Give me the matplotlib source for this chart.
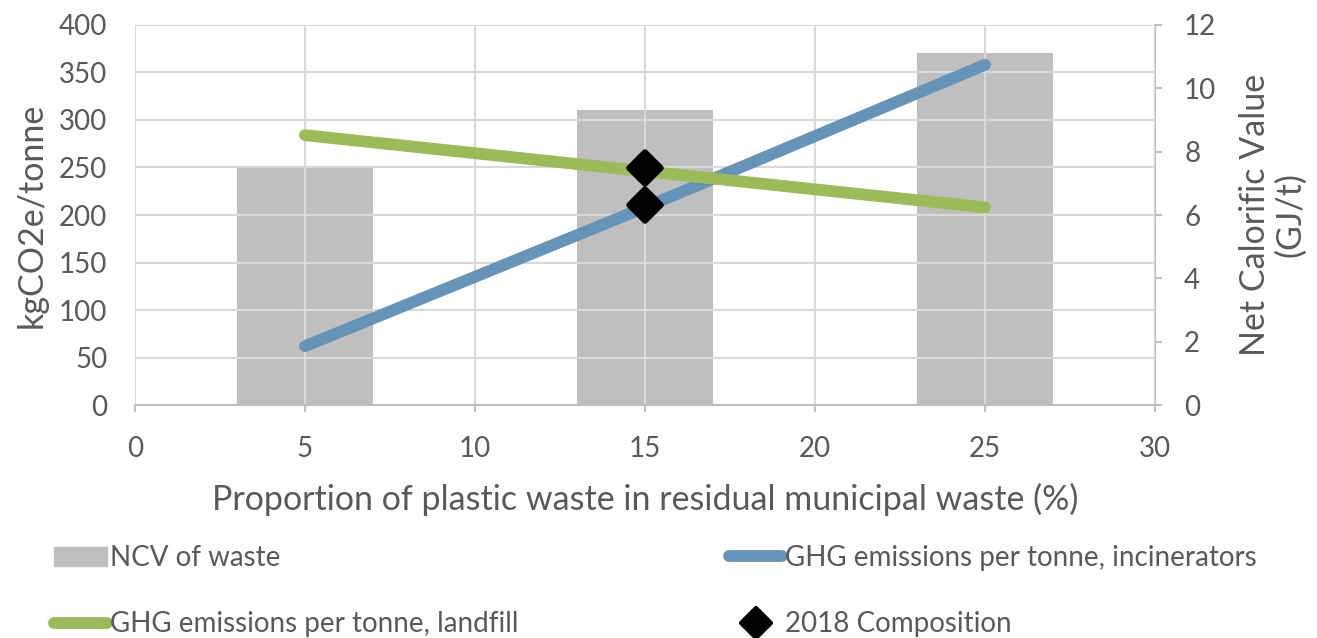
import numpy as np
import matplotlib.pyplot as plt
from matplotlib.lines import Line2D
from matplotlib.markers import MarkerStyle
from matplotlib.patches import Patch

plt.rcParams['font.family'] = ['Lato', 'DejaVu Sans']

# plastic share (%) and net calorific value of the waste (GJ/t)
plastic_share = [5, 15, 25]
ncv = [7.5, 9.3, 11.1]

# GHG emissions per tonne (kgCO2e/tonne)
ghg_incinerators = [62, 208, 358]
ghg_landfill = [284, 246, 208]

# 2018 composition points
comp_share = [15, 15]
comp_ghg = [249, 210]

txt = '#595959'
grid_c = '#D9D9D9'
axis_c = '#BFBFBF'
blue = '#6594B8'
green = '#9BBB59'

fig = plt.figure(figsize=(13.17, 6.38), dpi=100)
ax = fig.add_axes([0.1025, 0.365, 0.7745, 0.596])
ax2 = ax.twinx()

# bars on the right axis, drawn behind the lines
ax2.bar(plastic_share, ncv, width=4, color='#BFBFBF', zorder=1)
ax2.set_ylim(0, 12)
ax2.set_yticks(np.arange(0, 13, 2))

ax.set_zorder(ax2.get_zorder() + 1)
ax.patch.set_visible(False)

diamond = MarkerStyle('D', joinstyle='round')
ax.plot(plastic_share, ghg_incinerators, color=blue, lw=8.5,
        solid_capstyle='round', zorder=3)
ax.plot(plastic_share, ghg_landfill, color=green, lw=8.5,
        solid_capstyle='round', zorder=3)
ax.plot(comp_share, comp_ghg, ls='none', marker=diamond, ms=16, color='black',
        markeredgewidth=4, markeredgecolor='black', zorder=4)

ax.set_xlim(0, 30)
ax.set_ylim(0, 400)
ax.set_xticks(np.arange(0, 31, 5))
ax.set_yticks(np.arange(0, 401, 50))
ax.grid(True, color=grid_c, lw=1.5)
ax.set_axisbelow(True)

for a in (ax, ax2):
    for s in a.spines.values():
        s.set_visible(False)
ax.spines['bottom'].set_visible(True)
ax.spines['bottom'].set_color(axis_c)
ax.spines['bottom'].set_linewidth(1.5)
ax2.spines['right'].set_visible(True)
ax2.spines['right'].set_color(axis_c)
ax2.spines['right'].set_linewidth(1.5)

ax.tick_params(axis='x', colors=axis_c, length=5, width=1.5, labelsize=20,
               labelcolor=txt, pad=17)
ax.tick_params(axis='y', length=0, labelsize=20, labelcolor=txt, pad=20)
ax2.tick_params(axis='y', colors=axis_c, length=5, width=1.5, labelsize=20,
                labelcolor=txt, pad=16)

ax.set_xlabel('Proportion of plastic waste in residual municipal waste (%)',
              fontsize=24.5, color=txt, labelpad=15)
ax.set_ylabel('kgCO2e/tonne', fontsize=24.5, color=txt, labelpad=8)
ax2.set_ylabel('Net Calorific Value\n(GJ/t)', fontsize=24.5, color=txt,
               labelpad=16, linespacing=1.15)

handles = [
    Patch(color='#BFBFBF'),
    Line2D([], [], color=green, lw=8.5, solid_capstyle='round'),
    Line2D([], [], color=blue, lw=8.5, solid_capstyle='round'),
    Line2D([], [], ls='none', marker=diamond, ms=15, color='black',
           markeredgewidth=3),
]
labels = ['NCV of waste', 'GHG emissions per tonne, landfill',
          'GHG emissions per tonne, incinerators', '2018 Composition']
fig.legend(handles, labels, ncol=2, loc='upper left',
           bbox_to_anchor=(0.022, 0.185), frameon=False, fontsize=20,
           labelcolor=txt, handlelength=1.9, handletextpad=0.1,
           columnspacing=7.6, labelspacing=1.45)

fig.savefig('out.png', dpi=100)
